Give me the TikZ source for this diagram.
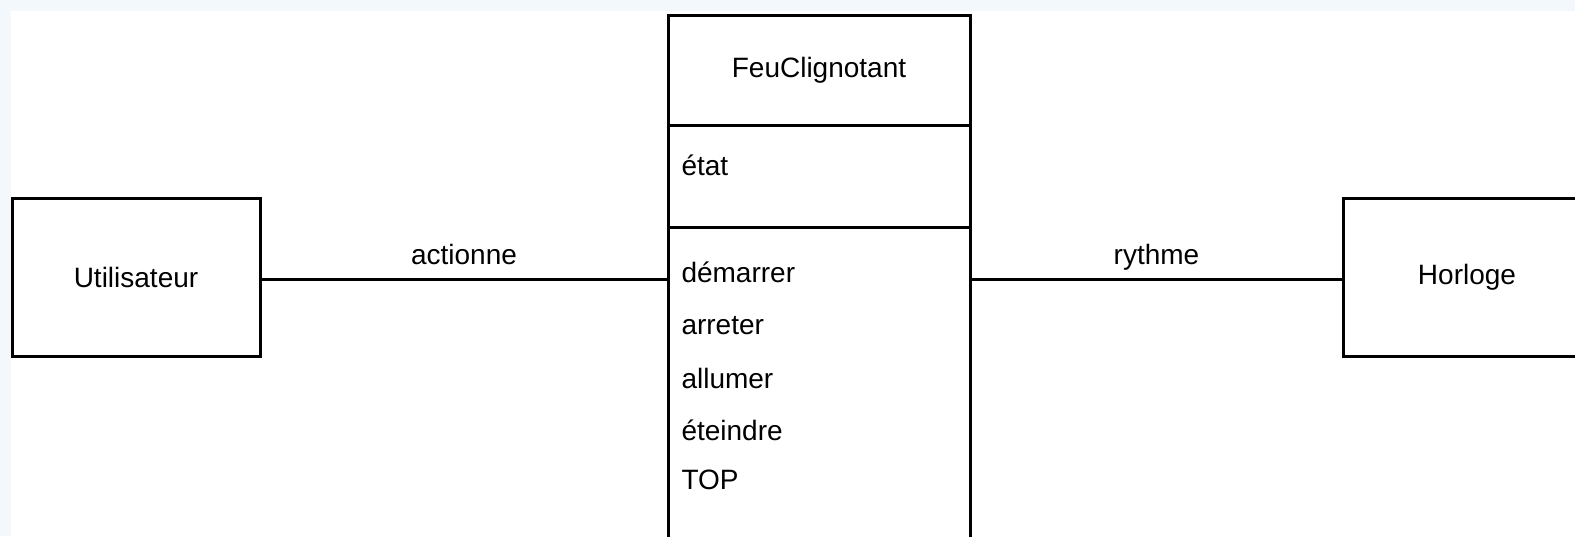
\documentclass[tikz,border=0pt]{standalone}
\usepackage{fontspec}
\setmainfont{Liberation Sans}
\usetikzlibrary{positioning}
\definecolor{umlEdge}{RGB}{242,248,251}

\begin{document}
\begin{tikzpicture}[
    x=0.5pt, y=-0.5pt,
    line width=1.5pt,
    font=\fontsize{14}{16}\selectfont,
    actor box/.style={rectangle, draw, outer sep=0pt, minimum width=124pt, minimum height=79pt},
    class part/.style={rectangle, draw, outer sep=0pt, minimum width=151pt},
    member/.style={anchor=west, inner sep=0pt},
    link note/.style={above, inner sep=4pt, text depth=0.25em}
]
  \useasboundingbox (0,0) rectangle (1575,536);
  \clip (0,0) rectangle (1575,536);
  \fill[umlEdge] (0,0) rectangle (1575,11);
  \fill[umlEdge] (0,0) rectangle (11,536);

  \node[actor box] (user) at (136,277) {Utilisateur};
  \node[actor box] (clock) at (1467,277) {Horloge};

  \node[class part, minimum height=55pt] (head) at (819,70) {FeuClignotant};
  \node[class part, minimum height=51pt, below=0pt of head] (attrs) {};
  \node[class part, minimum height=190pt, below=0pt of attrs] (ops) {};

  \node[member] (etat) at (680,165) {état};
  \node[member] (demarrer) at (680,272) {démarrer};
  \node[member] (arreter) at (680,326) {arreter};
  \node[member] (allumer) at (680,378) {allumer};
  \node[member] (eteindre) at (680,430) {éteindre};
  \node[member] (top) at (680,480) {TOP};

  % the links sit a little below the box centres
  \draw ([yshift=-1pt]user.east) -- node[link note] {actionne} ([yshift=-1pt]user.east -| ops.west);
  \draw ([yshift=-1pt]clock.west) -- node[link note] {rythme} ([yshift=-1pt]clock.west -| ops.east);
\end{tikzpicture}
\end{document}
